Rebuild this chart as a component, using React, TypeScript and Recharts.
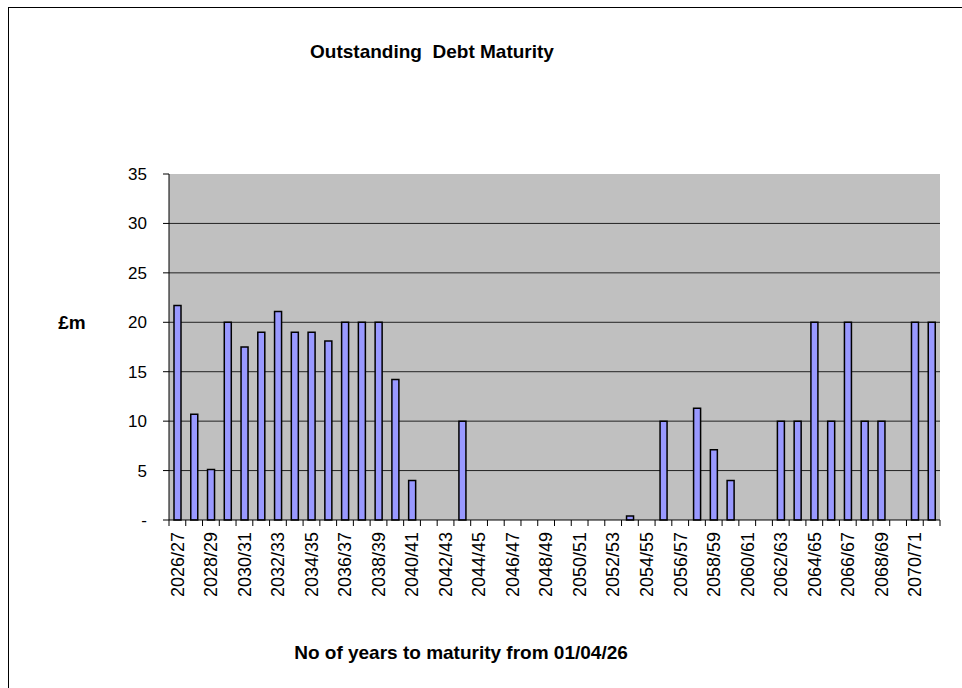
import { BarChart, Bar, XAxis, YAxis, CartesianGrid } from 'recharts'

// financial years 2026/27 .. 2071/72
const years = [
  '2026/27', '2027/28', '2028/29', '2029/30', '2030/31', '2031/32', '2032/33', '2033/34',
  '2034/35', '2035/36', '2036/37', '2037/38', '2038/39', '2039/40', '2040/41', '2041/42',
  '2042/43', '2043/44', '2044/45', '2045/46', '2046/47', '2047/48', '2048/49', '2049/50',
  '2050/51', '2051/52', '2052/53', '2053/54', '2054/55', '2055/56', '2056/57', '2057/58',
  '2058/59', '2059/60', '2060/61', '2061/62', '2062/63', '2063/64', '2064/65', '2065/66',
  '2066/67', '2067/68', '2068/69', '2069/70', '2070/71', '2071/72',
]

// £m maturing in each year
const maturing = [
  21.7, 10.7, 5.1, 20, 17.5, 19, 21.1, 19, 19, 18.1, 20, 20, 20, 14.2, 4, 0,
  0, 10, 0, 0, 0, 0, 0, 0, 0, 0, 0, 0.4, 0, 10, 0, 11.3,
  7.1, 4, 0, 0, 10, 10, 20, 10, 20, 10, 10, 0, 20, 20,
]

const yTicks = [0, 5, 10, 15, 20, 25, 30, 35]
const gridValues = [5, 10, 15, 20, 25, 30]

const data = years.map((year, i) => ({ year, value: maturing[i] }))

const FONT = '"Liberation Sans", Arial, sans-serif'
const W = 962
const H = 688
const M = { top: 174, right: 22, bottom: 78, left: 109 }
const STEP = (W - M.left - M.right - 60) / years.length

function CategoryTick(props: any) {
  const { x, y, payload, index } = props
  const half = payload?.offset || STEP / 2
  const last = index === years.length - 1
  return (
    <g>
      <line x1={x - half} y1={y} x2={x - half} y2={y + 6} stroke="#000" strokeWidth={1} />
      {last && <line x1={x + half} y1={y} x2={x + half} y2={y + 6} stroke="#000" strokeWidth={1} />}
      {index % 2 === 0 && (
        <text
          x={x}
          y={y + 12}
          dy="0.35em"
          transform={`rotate(-90, ${x}, ${y + 12})`}
          textAnchor="end"
          fontSize={18}
          fontFamily={FONT}
          fill="#000"
        >
          {payload.value}
        </text>
      )}
    </g>
  )
}

const bold = { position: 'absolute' as const, transform: 'translateX(-50%)', fontSize: 19, fontWeight: 'bold', lineHeight: '22px', whiteSpace: 'pre' as const }

export default function App() {
  return (
    <div style={{ position: 'absolute', left: 0, top: 0, width: W, height: H, background: '#fff', fontFamily: FONT }}>
      <div style={{ position: 'absolute', left: 8, top: 7, right: 0, bottom: 0, borderLeft: '1px solid #000', borderTop: '1px solid #000' }} />
      <div style={{ ...bold, left: 432, top: 41 }}>Outstanding  Debt Maturity</div>
      <div style={{ ...bold, left: 72, top: 312 }}>£m</div>
      <div style={{ ...bold, left: 461, top: 642 }}>No of years to maturity from 01/04/26</div>
      <div style={{ position: 'absolute', left: 0, top: 0 }}>
        <BarChart width={W} height={H} data={data} margin={M} barSize={7}>
          <CartesianGrid
            vertical={false}
            horizontalValues={gridValues}
            stroke="#222"
            strokeWidth={1}
            fill="#C0C0C0"
            fillOpacity={1}
          />
          <XAxis
            dataKey="year"
            interval={0}
            height={90}
            tickSize={0}
            tickMargin={0}
            tickLine={false}
            axisLine={{ stroke: '#000', strokeWidth: 1 }}
            tick={<CategoryTick />}
          />
          <XAxis xAxisId="top" dataKey="year" orientation="top" height={0} tick={false} tickLine={false} axisLine={{ stroke: '#808080', strokeWidth: 2 }} />
          <YAxis
            domain={[0, 35]}
            ticks={yTicks}
            width={60}
            tickSize={6}
            tickMargin={16}
            tickLine={{ stroke: '#000' }}
            axisLine={{ stroke: '#000', strokeWidth: 1 }}
            tick={{ fontSize: 17, fontFamily: FONT, fill: '#000' }}
            tickFormatter={(v: number) => (v === 0 ? '-' : String(v))}
          />
          <YAxis yAxisId="right" orientation="right" width={0} tick={false} tickLine={false} axisLine={{ stroke: '#808080', strokeWidth: 2 }} />
          <Bar dataKey="value" fill="#9999FF" stroke="#000" strokeWidth={1.5} isAnimationActive={false} />
        </BarChart>
      </div>
    </div>
  )
}
